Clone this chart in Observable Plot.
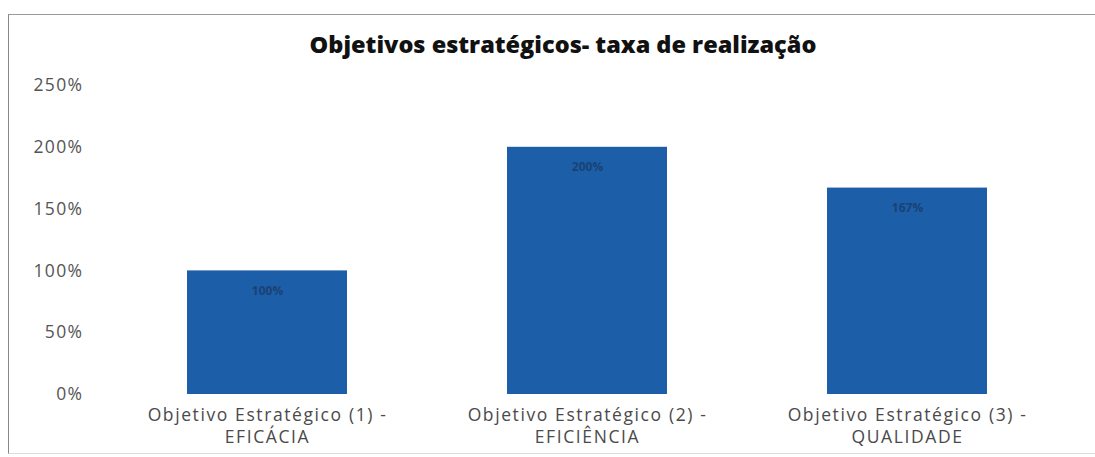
<!DOCTYPE html>
<html>
<head>
<meta charset="utf-8">
<script src="https://cdn.jsdelivr.net/npm/d3@7"></script>
<script src="https://cdn.jsdelivr.net/npm/@observablehq/plot@0.6"></script>
<style>
  html, body { margin: 0; padding: 0; background: #fff; }
  #wrap { position: relative; width: 1095px; height: 457px; overflow: hidden; }
  #frame { position: absolute; left: 8px; top: 14px; width: 1100px; height: 438px;
           border-top: 1px solid #999; border-left: 1.5px solid #888; border-bottom: 1px solid #ddd; }
  #title { position: absolute; left: 0; width: 1126px; top: 28px; text-align: center;
           font-family: "Open Sans", sans-serif; font-weight: 800; font-size: 23.5px; color: #111; }
  #chart { position: absolute; left: 0; top: 0; }
  g[aria-label="x-axis tick label"] text { letter-spacing: 1.6px; }
  g[aria-label="y-axis tick label"] text { letter-spacing: 1.4px; }
</style>
</head>
<body>
<div id="wrap">
  <div id="frame"></div>
  <div id="title">Objetivos estratégicos- taxa de realização</div>
  <div id="chart"></div>
</div>
<script>
const categories = [
  "Objetivo Estratégico (1) -\nEFICÁCIA",
  "Objetivo Estratégico (2) -\nEFICIÊNCIA",
  "Objetivo Estratégico (3) -\nQUALIDADE"
];
const values = [1.00, 2.00, 1.67];
const yTicks = [0, 0.5, 1, 1.5, 2, 2.5];

const data = categories.map((c, i) => ({cat: c, v: values[i]}));
const pct = d => Math.round(d * 100) + "%";

const plot = Plot.plot({
  width: 1095,
  height: 457,
  marginTop: 85,
  marginBottom: 63,
  marginLeft: 123,
  marginRight: 44,
  style: {background: "transparent", fontFamily: "Open Sans, sans-serif"},
  x: {domain: categories, paddingInner: 0.5, paddingOuter: 0.2, label: null},
  y: {domain: [0, 2.5], label: null},
  marks: [
    Plot.barY(data, {x: "cat", y: "v", fill: "#1c5ea7"}),
    Plot.text(data, {x: "cat", y: "v", text: d => pct(d.v), dy: 20, fill: "#1a4275", fontSize: 12, fontWeight: "bold"}),
    Plot.axisY({ticks: yTicks, tickFormat: pct, tickSize: 0, tickPadding: 40, fontSize: 17.5, fill: "#555", textAnchor: "end"}),
    Plot.axisX({tickSize: 0, tickPadding: 11, fontSize: 17.5, fill: "#4a4a4a", lineHeight: 1.25, lineAnchor: "top"})
  ]
});
document.getElementById("chart").appendChild(plot);
</script>
</body>
</html>
